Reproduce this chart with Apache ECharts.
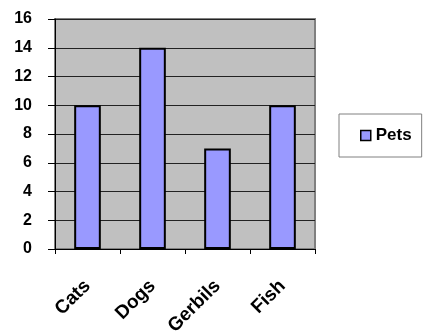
<!DOCTYPE html>
<html>
<head>
<meta charset="utf-8">
<script src="https://cdn.jsdelivr.net/npm/echarts@6/dist/echarts.min.js"></script>
<style>
  html, body { margin: 0; padding: 0; background: #fff; }
  #chart { width: 426px; height: 333px; }
</style>
</head>
<body>
<div id="chart"></div>
<script>
// chart data
const categories = ['Cats', 'Dogs', 'Gerbils', 'Fish'];
const petValues = [10, 14, 7, 10];
const seriesName = 'Pets';

const FONT = '"Liberation Sans", Arial, sans-serif';

const chart = echarts.init(document.getElementById('chart'));

chart.setOption({
  animation: false,
  grid: {
    left: 55, right: 111, top: 19, bottom: 84,
    outerBoundsMode: 'none',
    containLabel: false,
    show: true,
    backgroundColor: '#c0c0c0',
    borderColor: '#808080',
    borderWidth: 2,
  },
  legend: {
    data: [seriesName],
    left: 339, top: 114,
    padding: [13, 10, 13, 21],
    borderColor: '#808080',
    borderWidth: 1,
    itemWidth: 10, itemHeight: 10,
    icon: 'rect',
    itemStyle: { color: '#9999ff', borderColor: '#000', borderWidth: 1.5 },
    textStyle: { fontFamily: FONT, fontWeight: 'bold', fontSize: 17, color: '#000' },
  },
  xAxis: {
    type: 'category',
    data: categories,
    axisLine: { lineStyle: { color: '#000', width: 1 } },
    axisTick: { show: true, length: 5, lineStyle: { color: '#000' } },
    axisLabel: {
      rotate: 45, margin: 34,
      fontFamily: FONT, fontWeight: 'bold', fontSize: 19, color: '#000',
    },
  },
  yAxis: {
    type: 'value',
    min: 0, max: 16, interval: 2,
    axisLine: { show: true, lineStyle: { color: '#000', width: 1 } },
    axisTick: { show: true, length: 7, lineStyle: { color: '#000' } },
    splitLine: { lineStyle: { color: '#222', width: 1 } },
    axisLabel: {
      margin: 23,
      fontFamily: FONT, fontWeight: 'bold', fontSize: 16, color: '#000',
    },
  },
  series: [{
    name: seriesName,
    type: 'bar',
    data: petValues,
    barWidth: '41%',
    itemStyle: { color: '#9999ff', borderColor: '#000', borderWidth: 2 },
  }],
});
</script>
</body>
</html>
